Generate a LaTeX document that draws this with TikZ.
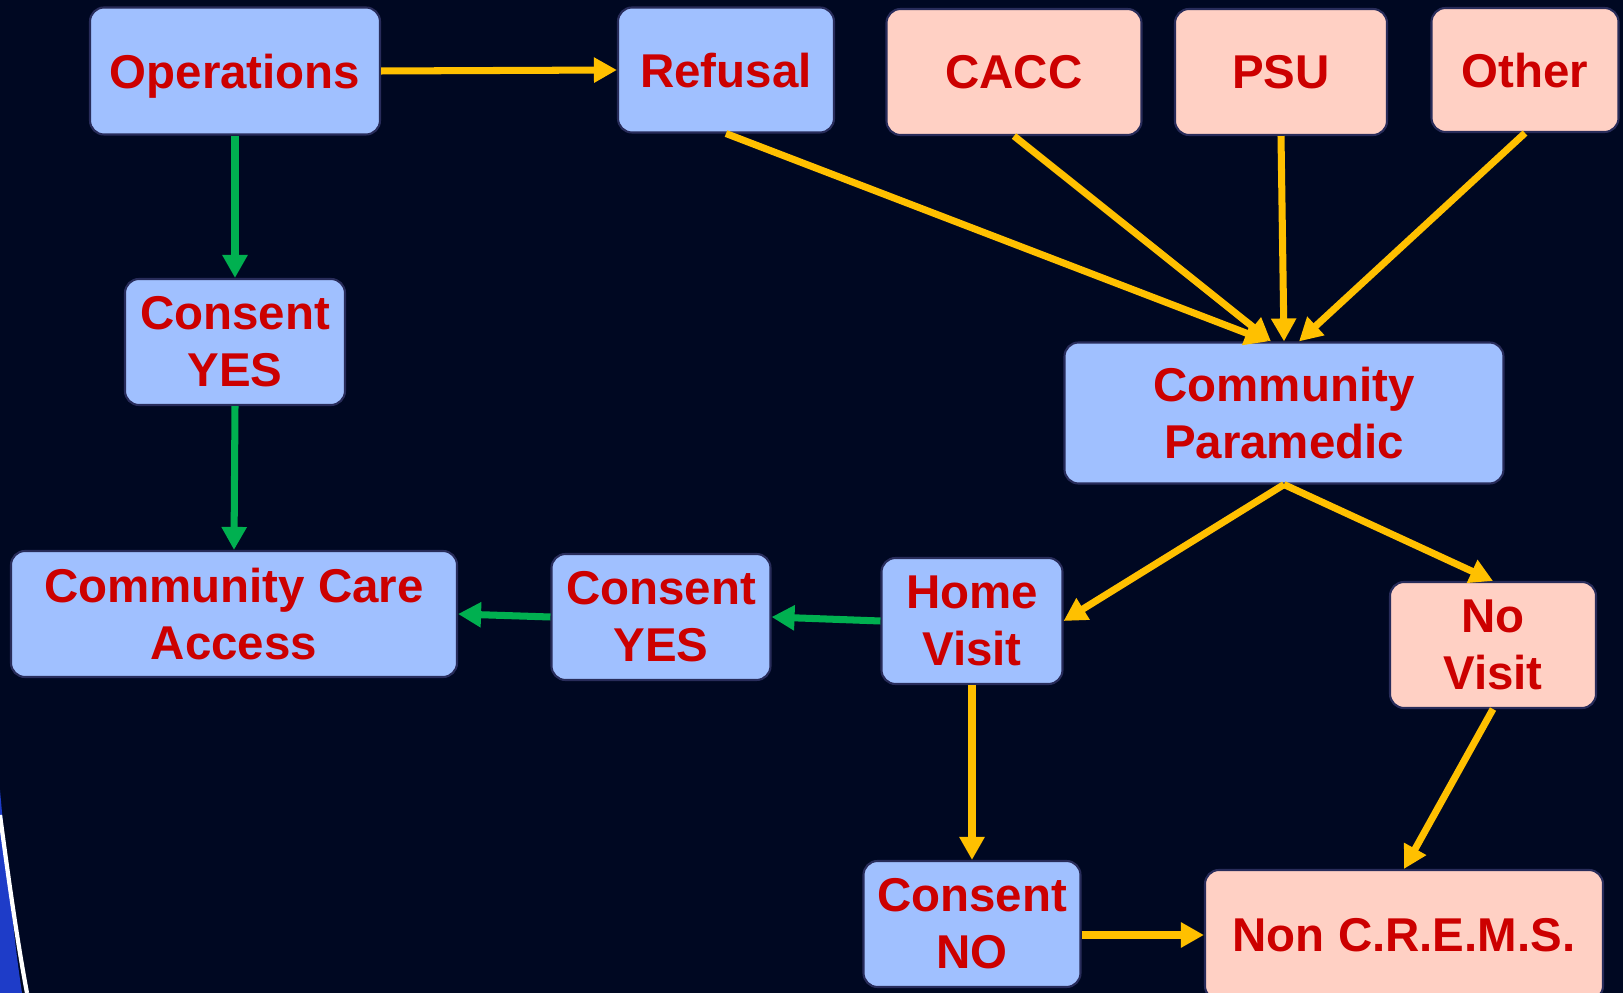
\documentclass[tikz,border=0pt]{standalone}
\usepackage{fontspec}
\setmainfont{Liberation Sans}
\usetikzlibrary{arrows.meta,positioning}
\definecolor{mynavy}{RGB}{0,8,34}
\definecolor{myblue}{RGB}{160,192,255}
\definecolor{mypink}{RGB}{255,208,196}
\definecolor{myred}{RGB}{204,0,0}
\definecolor{myyellow}{RGB}{255,192,0}
\definecolor{mygreen}{RGB}{0,176,80}
\definecolor{myedge}{RGB}{40,44,90}
\definecolor{myswoosh}{RGB}{30,60,200}

\begin{document}
\begin{tikzpicture}[x=0.1mm,y=-0.1mm,
	every node/.style={draw=myedge,line width=0.6pt,rounded corners=1.4mm,align=center,inner sep=0pt,
		font=\fontsize{13.5}{16.2}\selectfont\bfseries,text=myred},
	bluenode/.style={fill=myblue},
	pinknode/.style={fill=mypink},
	oneline/.style={text depth=0pt},
	yarrow/.style={myyellow,line width=2pt,-{Triangle[length=2.3mm,width=2.4mm]}},
	garrow/.style={mygreen,line width=2pt,-{Triangle[length=2.3mm,width=2.4mm]}},
	]
	
	% background
	\fill[mynavy] (0,0) rectangle (1623,993);
	\useasboundingbox (0,0) rectangle (1623,993);
	\fill[myswoosh] (0,790) .. controls (8,880) and (14,940) .. (22,993) -- (0,993) -- cycle;
	\draw[white,line width=1.2pt] (0,815) .. controls (10,890) and (18,945) .. (27,993);
	
	% top row
	\node[bluenode,oneline,minimum width=29mm,minimum height=12.7mm] (ops) at (235,71) {Operations};
	\node[bluenode,oneline,minimum width=21.6mm,minimum height=12.5mm] (ref) at (726,70) {Refusal};
	\node[pinknode,oneline,minimum width=25.5mm,minimum height=12.6mm] (cacc) at (1014,72) {CACC};
	\node[pinknode,oneline,minimum width=21.2mm,minimum height=12.6mm] (psu) at (1281,72) {PSU};
	\node[pinknode,oneline,minimum width=18.7mm,minimum height=12.4mm] (other) at (1525,70) {Other};
	
	% middle
	\node[bluenode,minimum width=22mm,minimum height=12.6mm] (cyes1) at (235,342) {Consent\\YES};
	\node[bluenode,minimum width=43.9mm,minimum height=14.1mm] (cp) at (1284,413) {Community\\Paramedic};
	
	% lower rows
	\node[bluenode,minimum width=44.6mm,minimum height=12.6mm] (cca) at (234,614) {Community Care\\Access};
	\node[bluenode,minimum width=21.9mm,minimum height=12.6mm] (cyes2) at (661,617) {Consent\\YES};
	\node[bluenode,minimum width=18.1mm,minimum height=12.6mm] (hv) at (972,621) {Home\\Visit};
	\node[pinknode,minimum width=20.6mm,minimum height=12.6mm] (nv) at (1493,645) {No\\Visit};
	\node[bluenode,minimum width=21.7mm,minimum height=12.6mm] (cno) at (972,924) {Consent\\NO};
	\node[pinknode,oneline,minimum width=39.8mm,minimum height=13mm] (ncrems) at (1404,935) {Non C.R.E.M.S.};
	
	% green edges
	\draw[garrow] (ops.south) -- (cyes1.north);
	\draw[garrow] (cyes1.south) -- (cca.north);
	\draw[garrow] (hv.west) -- (cyes2.east);
	\draw[garrow] (cyes2.west) -- (cca.east);
	
	% yellow edges
	\draw[yarrow] (ops.east) -- (ref.west);
	\draw[yarrow] (ref.south) -- ([xshift=-1.6mm]cp.north);
	\draw[yarrow] (cacc.south) -- ([xshift=-1.3mm]cp.north);
	\draw[yarrow] (psu.south) -- (cp.north);
	\draw[yarrow] (other.south) -- ([xshift=1.5mm]cp.north);
	\draw[yarrow] (cp.south) -- (hv.east);
	\draw[yarrow] (cp.south) -- (nv.north);
	\draw[yarrow] (hv.south) -- (cno.north);
	\draw[yarrow] (cno.east |- ncrems.west) -- (ncrems.west);
	\draw[yarrow] (nv.south) -- (ncrems.north);
	
\end{tikzpicture}
\end{document}
